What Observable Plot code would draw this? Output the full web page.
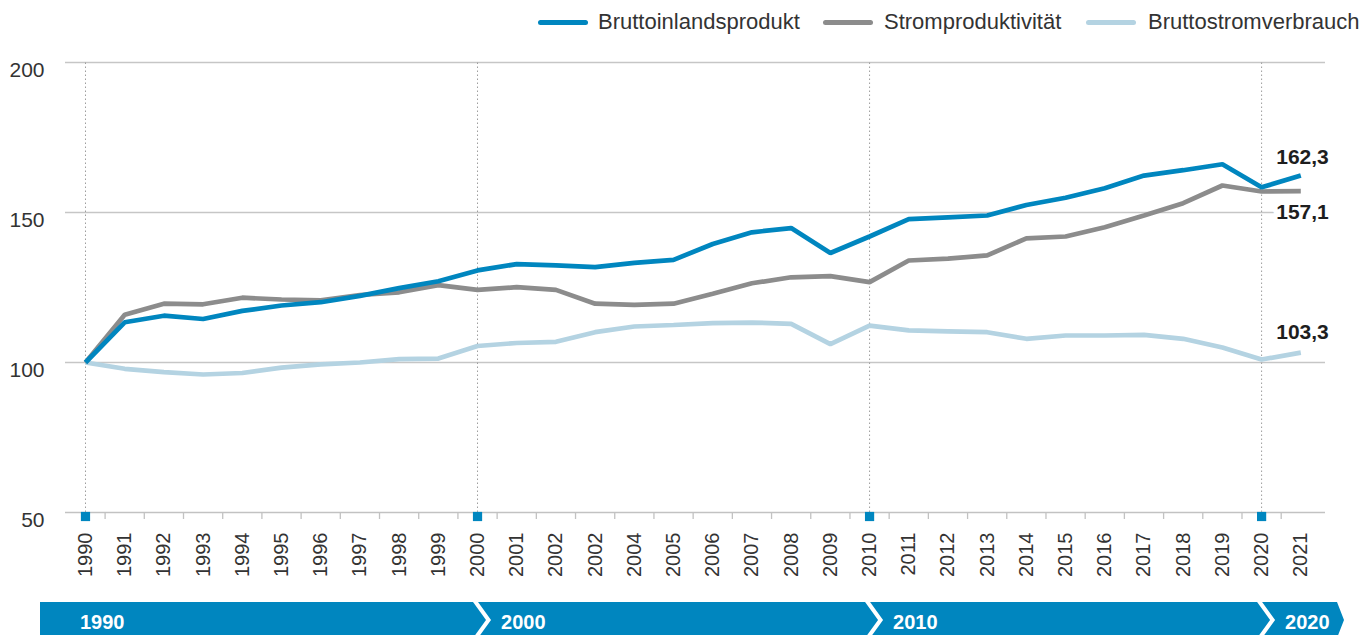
<!DOCTYPE html>
<html><head><meta charset="utf-8">
<script src="https://cdn.jsdelivr.net/npm/d3@7"></script>
<script src="https://cdn.jsdelivr.net/npm/@observablehq/plot@0.6"></script>
<style>
body{margin:0;background:#fff;font-family:"Liberation Sans",Arial,sans-serif;overflow:hidden}
#legend{position:relative;height:44px;width:1362px}
.sw{position:absolute;top:20px;height:5px;border-radius:3px;width:50px}
.lt{position:absolute;top:9px;font-size:22px;color:#333;line-height:26px;white-space:nowrap}
</style></head><body>
<div id="legend"></div>
<div id="chart"></div>
<script>
// ---- data ----
const yearLabels = ["1990","1991","1992","1993","1994","1995","1996","1997","1998","1999",
  "2000","2001","2002","2002","2004","2005","2006","2007","2008","2009",
  "2010","2011","2012","2013","2014","2015","2016","2017","2018","2019","2020","2021"];
const bip = [100,113.4,115.6,114.5,117.2,119,120.1,122.2,124.8,127.1,
  130.7,132.8,132.4,131.8,133.2,134.2,139.5,143.4,144.8,136.5,
  142,147.8,148.4,149,152.5,154.9,158.1,162.3,164.1,166.1,158.4,162.3];
const strom = [100,115.9,119.6,119.4,121.6,121,120.7,122.5,123.4,125.8,
  124.2,125.1,124.2,119.6,119.2,119.6,122.9,126.4,128.4,128.8,
  126.8,134,134.6,135.7,141.4,142,145.1,149,153.1,159,157,157.1];
const verbrauch = [100,97.9,96.8,96,96.5,98.3,99.4,100,101.1,101.3,
  105.5,106.5,106.9,110.1,112,112.5,113.1,113.3,112.9,106.1,
  112.3,110.7,110.4,110.1,107.9,109,109,109.2,107.9,105,101,103.3];
const seriesNames = ["Bruttoinlandsprodukt","Stromproduktivität","Bruttostromverbrauch"];
const seriesColors = ["#0086bf","#8c8c8c","#b4d3e2"];
const endLabels = ["162,3","157,1","103,3"];
const decadeLabels = ["1990","2000","2010","2020"];
const yTicks = [50,100,150,200];
const yGrid = [100,150,200];

(function () {
// ---- derived ----
const idx = yearLabels.map((_, i) => i);
const decadeIdx = idx.filter(i => i % 10 === 0);
const mids = idx.slice(0, -1).map(i => i + 0.5);
const rows = (vals) => vals.map((v, i) => ({i, v}));
const seriesVals = [bip, strom, verbrauch];
const last = idx.length - 1;

// ---- legend ----
const legendPos = [[538,598],[823,884],[1086,1148]];
const leg = document.getElementById("legend");
seriesNames.forEach((n, k) => {
  const s = document.createElement("div"); s.className = "sw";
  s.style.left = legendPos[k][0] + "px"; s.style.background = seriesColors[k];
  const t = document.createElement("div"); t.className = "lt";
  t.style.left = legendPos[k][1] + "px"; t.textContent = n;
  leg.append(s, t);
});

// ---- chart ----
const lineOpts = (k) => ({x: "i", y: "v", stroke: seriesColors[k], strokeWidth: 4.7, strokeLinejoin: "miter", strokeLinecap: "butt"});
const endText = (k, dy) => Plot.text([{i: last, v: seriesVals[k][last]}], {
  x: "i", y: "v", text: () => endLabels[k], dx: 28, dy, textAnchor: "end",
  fontWeight: "bold", fontSize: 21, fill: "#1e1e1e", stroke: "white", strokeWidth: 10
});

const plot = Plot.plot({
  width: 1362, height: 591,
  marginTop: 18, marginBottom: 123, marginLeft: 65, marginRight: 37,
  style: {fontFamily: "'Liberation Sans', Arial, sans-serif", color: "#333", background: "white", overflow: "visible"},
  x: {type: "linear", domain: [-0.51, 31.63], label: null},
  y: {domain: [50, 200], label: null},
  marks: [
    Plot.ruleY(yGrid, {stroke: "#c6c6c6", strokeWidth: 1.3}),
    Plot.ruleX(decadeIdx, {x: d => d, y1: 50, y2: 200, stroke: "#9d9d9d", strokeWidth: 1, strokeDasharray: "1.5,2.5"}),
    Plot.ruleY([50], {stroke: "#c2c2c2", strokeWidth: 1.5}),
    Plot.axisX({ticks: mids, tickSize: 7, tickFormat: () => "", stroke: "#c2c2c2", strokeWidth: 1.3}),
    Plot.axisX({ticks: idx, tickFormat: i => yearLabels[i], tickRotate: -90, tickSize: 0, tickPadding: 20, fontSize: 20, fill: "#333"}),
    Plot.axisY({ticks: yTicks, tickSize: 0, tickPadding: 21, fontSize: 21, dy: 8, fill: "#333"}),
    Plot.dot(decadeIdx, {x: d => d, frameAnchor: "bottom", dy: 4, symbol: "square", r: 5.2, fill: "#0086bf"}),
    Plot.line(rows(verbrauch), lineOpts(2)),
    Plot.line(rows(strom), lineOpts(1)),
    Plot.line(rows(bip), lineOpts(0)),
    endText(0, -18),
    endText(1, 21),
    endText(2, -20)
  ]
});
document.getElementById("chart").append(plot);

// ---- decade banner (positioned with the plot's x scale) ----
const xs = plot.scale("x").apply;
const svg = d3.select(plot);
const bTop = 558, bMid = 576, bBot = 594, depth = 13, gap = 5, bLeft = 40, bRight = 1337;
const cuts = decadeIdx.slice(1).map(d => xs(d) - 4);
const g = svg.append("g").attr("text-anchor", "start");
for (let k = 0; k <= cuts.length; k++) {
  const pts = [];
  if (k === 0) { pts.push([bLeft, bTop]); }
  else { pts.push([cuts[k-1] + gap, bTop]); }
  if (k < cuts.length) {
    pts.push([cuts[k], bTop], [cuts[k] + depth, bMid], [cuts[k], bBot]);
  } else {
    pts.push([bRight, bTop], [bRight + 7, bMid], [bRight, bBot]);
  }
  if (k === 0) { pts.push([bLeft, bBot]); }
  else { pts.push([cuts[k-1] + gap, bBot], [cuts[k-1] + gap + depth, bMid]); }
  g.append("polygon").attr("points", pts.map(p => p.join(",")).join(" ")).attr("fill", "#0086bf");
  g.append("text").attr("x", k === 0 ? bLeft + 40 : cuts[k-1] + 28).attr("y", bTop + 27)
    .attr("text-anchor", "start")
    .attr("fill", "white").attr("font-weight", "bold").attr("font-size", 20)
    .text(decadeLabels[k]);
}
})();
</script>
</body></html>
